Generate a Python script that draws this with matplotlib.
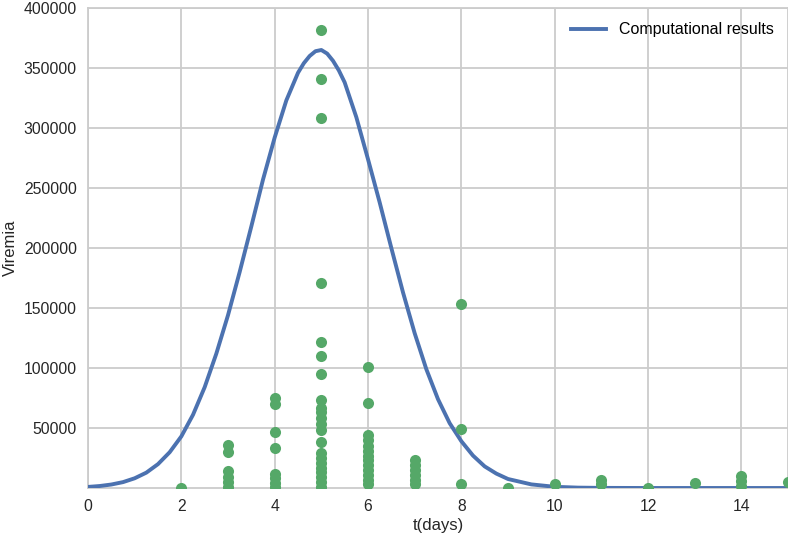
import matplotlib
matplotlib.use("Agg")
import matplotlib.pyplot as plt
import numpy as np

# computational curve
t_model = [0.0, 0.25, 0.5, 0.75, 1.0, 1.25, 1.5, 1.75, 2.0, 2.25, 2.5, 2.75,
           3.0, 3.25, 3.5, 3.75, 4.0, 4.25, 4.5, 4.625, 4.75, 4.875, 5.0,
           5.125, 5.25, 5.375, 5.5, 5.75,
           6.0, 6.25, 6.5, 6.75, 7.0, 7.25, 7.5, 7.75, 8.0, 8.25, 8.5, 8.75,
           9.0, 9.5, 10.0, 10.5, 11.0, 12.0, 13.0, 14.0, 15.0]
v_model = [900, 1650, 2900, 4900, 8100, 12800, 19900, 29800, 43000, 61000,
           84000, 112000, 144000, 180000, 218000, 257000, 292000, 323000,
           346000, 354000, 360000, 364000, 365000, 362000, 356000, 348000,
           338000, 309000, 274000, 238000,
           200000, 163000, 129000, 99000, 74000, 54000, 39000, 27000, 18000,
           12000, 7500, 3000, 1000, 300, 100, 0, 0, 0, 0]

# measured viremia, by day
obs_days = [2, 3, 4, 5, 6, 7, 8, 9, 10, 11, 12, 13, 14, 15]
obs_vals = [
    [0],
    [36000, 30000, 14000, 9000, 5000, 1000],
    [75000, 70000, 47000, 33000, 12000, 8000, 4000, 1000],
    [382000, 341000, 308000, 171000, 122000, 110000, 95000,
     73000, 67000, 63000, 58000, 53000, 48000, 38000,
     29000, 25000, 21000, 17000, 13000, 9000, 5000, 1000],
    [101000, 71000, 44000, 40000, 35000, 31000, 27000, 23000,
     19000, 15000, 11000, 7000, 3000],
    [23000, 19000, 15000, 11000, 7000, 3000],
    [153000, 49000, 3000],
    [0],
    [3000],
    [7000, 3000],
    [0],
    [4000],
    [10000, 6000, 2000],
    [5000],
]

plt.rcParams['font.family'] = ['Liberation Sans', 'DejaVu Sans']
plt.rcParams['font.size'] = 11

fig = plt.figure(figsize=(7.88, 5.38), dpi=100)
ax = fig.add_axes([88 / 788, (538 - 488) / 538, 700 / 788, 480 / 538])

xs = []
ys = []
for d, vals in zip(obs_days, obs_vals):
    xs += [d] * len(vals)
    ys += vals

ax.plot(t_model, v_model, color="#4C72B0", lw=2.8, label="Computational results", zorder=3)
ax.plot(xs, ys, "o", color="#55A868", ms=8, mec="none", zorder=4)

ax.set_xlim(0, 15)
ax.set_ylim(0, 400000)
ax.set_xticks([0, 2, 4, 6, 8, 10, 12, 14])
ax.set_yticks(np.arange(50000, 400001, 50000))
ax.grid(True, color="#cccccc", lw=1.3)
ax.set_axisbelow(True)
for s in ax.spines.values():
    s.set_color("#cccccc")
    s.set_linewidth(1.3)
ax.tick_params(length=0, labelsize=11.3, colors="#262626", pad=8)
ax.set_xlabel("t(days)", fontsize=12, color="#262626", labelpad=3)
ax.set_ylabel("Viremia", fontsize=12, color="#262626", labelpad=4)
ax.legend(loc="upper right", frameon=False, fontsize=11.5, handlelength=2.2,
          handletextpad=0.8)

fig.savefig("out.png", dpi=100)
